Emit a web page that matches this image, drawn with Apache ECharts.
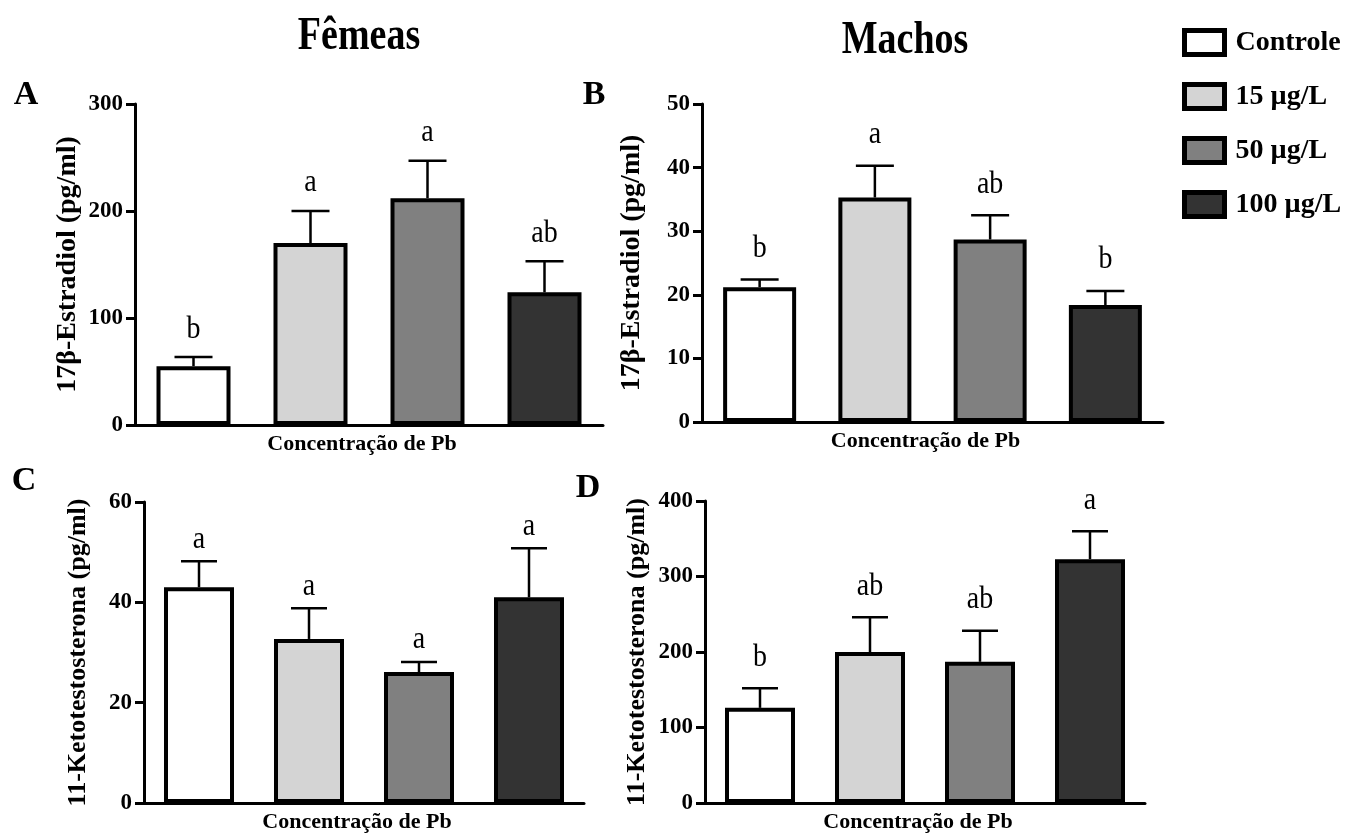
<!DOCTYPE html>
<html>
<head>
<meta charset="utf-8">
<script src="https://cdn.jsdelivr.net/npm/echarts@6/dist/echarts.min.js"></script>
<style>
html,body{margin:0;padding:0;background:#fff;}
#chart{width:1349px;height:834px;}
</style>
</head>
<body>
<div id="chart"></div>
<script>
// ---- data ----
const categories = ['Controle', '15 µg/L', '50 µg/L', '100 µg/L'];
const groupColors = ['#ffffff', '#d4d4d4', '#808080', '#333333'];

const meanA = [55, 170, 212, 124];
const semA = [8.5, 30, 35, 29];
const letA = ['b', 'a', 'a', 'ab'];

const meanB = [21.2, 35.3, 28.7, 18.4];
const semB = [1.2, 5.0, 3.8, 2.2];
const letB = ['b', 'a', 'ab', 'b'];

const meanC = [43.0, 32.7, 26.1, 41.0];
const semC = [5.2, 6.1, 2.0, 9.8];
const letC = ['a', 'a', 'a', 'a'];

const meanD = [126, 200, 187, 323];
const semD = [26, 46, 41, 37];
const letD = ['b', 'ab', 'ab', 'a'];

const yTitleE2 = '17β-Estradiol (pg/ml)';
const yTitleKT = '11-Ketotestosterona (pg/ml)';
const xTitle = 'Concentração de Pb';

// ---- layout ----
const FONT = '"Liberation Serif", "Times New Roman", serif';
const panels = [
  {grid:{left:135, top:104, width:468, height:321}, max:300, interval:100, mean:meanA, sem:semA, let:letA, yName:yTitleE2, barW:74, capW:38, off:28, nameGap:53, nameSize:28},
  {grid:{left:702, top:104, width:461, height:318}, max:50, interval:10, mean:meanB, sem:semB, let:letB, yName:yTitleE2, barW:73, capW:38, off:31, nameGap:56, nameSize:28},
  {grid:{left:144, top:502, width:440, height:301}, max:60, interval:20, mean:meanC, sem:semC, let:letC, yName:yTitleKT, barW:70, capW:36, off:22, nameGap:53, nameSize:26},
  {grid:{left:705, top:501, width:440, height:302}, max:400, interval:100, mean:meanD, sem:semD, let:letD, yName:yTitleKT, barW:70, capW:36, off:31, nameGap:55, nameSize:26}
];

const grid = [], xAxis = [], yAxis = [], series = [];
panels.forEach((p, pi) => {
  grid.push(p.grid);
  xAxis.push({
    type:'category', gridIndex:pi, data:categories,
    axisLine:{lineStyle:{color:'#000', width:3}},
    axisTick:{show:false}, axisLabel:{show:false},
    name:xTitle, nameLocation:'middle', nameGap:8,
    nameTextStyle:{fontFamily:FONT, fontWeight:'bold', fontSize:22, color:'#000', padding:[0,14,0,0]}
  });
  yAxis.push({
    type:'value', gridIndex:pi, min:0, max:p.max, interval:p.interval,
    splitLine:{show:false},
    axisLine:{show:true, lineStyle:{color:'#000', width:3}},
    axisTick:{show:true, length:9, lineStyle:{color:'#000', width:3}},
    axisLabel:{fontFamily:FONT, fontWeight:'bold', fontSize:23, color:'#000', margin:12},
    name:p.yName, nameLocation:'middle', nameGap:p.nameGap,
    nameTextStyle:{fontFamily:FONT, fontWeight:'bold', fontSize:p.nameSize, color:'#000'}
  });
  categories.forEach((c, ci) => {
    series.push({
      type:'bar', name:c, xAxisIndex:pi, yAxisIndex:pi,
      barWidth:p.barW, barGap:'-100%',
      itemStyle:{color:groupColors[ci], borderColor:'#000', borderWidth:4},
      emphasis:{disabled:true},
      data:categories.map((_, k) => k === ci ? p.mean[k] : '-'),
      z:2
    });
  });
  series.push({
    type:'custom', xAxisIndex:pi, yAxisIndex:pi, z:3,
    data:p.mean.map((m, k) => [k, m, p.sem[k]]),
    encode:{x:0, y:1},
    renderItem:function(params, api){
      const i = api.value(0), m = api.value(1), s = api.value(2);
      const b = api.coord([i, m]);
      const t = api.coord([i, m + s]);
      const h = p.capW / 2;
      return {type:'group', children:[
        {type:'line', shape:{x1:b[0], y1:b[1], x2:t[0], y2:t[1]}, style:{stroke:'#000', lineWidth:2.5}},
        {type:'line', shape:{x1:t[0]-h, y1:t[1], x2:t[0]+h, y2:t[1]}, style:{stroke:'#000', lineWidth:2.5}},
        {type:'text', x:t[0], y:t[1]-p.off, scaleY:1.15, style:{text:p.let[params.dataIndex], fontFamily:FONT, fontSize:28, fill:'#000', align:'center', verticalAlign:'middle'}}
      ]};
    }
  });
});

const txt = (s, x, y, size, sy) => ({type:'text', x:x, y:y, scaleY:sy, style:{text:s, font:'bold ' + size + 'px ' + FONT, fill:'#000', align:'center', verticalAlign:'middle'}});

const option = {
  animation:false,
  backgroundColor:'#fff',
  grid, xAxis, yAxis, series,
  legend:{
    data:categories, orient:'vertical', left:1182, top:28, padding:0,
    itemWidth:40, itemHeight:24, itemGap:25, icon:'rect',
    itemStyle:{borderColor:'#000', borderWidth:5},
    textStyle:{fontFamily:FONT, fontWeight:'bold', fontSize:28, color:'#000', padding:[0,0,0,6], lineHeight:28},
    selectedMode:false
  },
  graphic:[
    txt('Fêmeas', 359, 37, 38, 1.2),
    txt('Machos', 905, 41, 38, 1.2),
    txt('A', 26, 95, 34, 1.0),
    txt('B', 594, 95, 34, 1.0),
    txt('C', 24, 481, 34, 1.0),
    txt('D', 588, 488, 34, 1.0)
  ]
};

const chart = echarts.init(document.getElementById('chart'), null, {renderer:'canvas'});
chart.setOption(option);
</script>
</body>
</html>
